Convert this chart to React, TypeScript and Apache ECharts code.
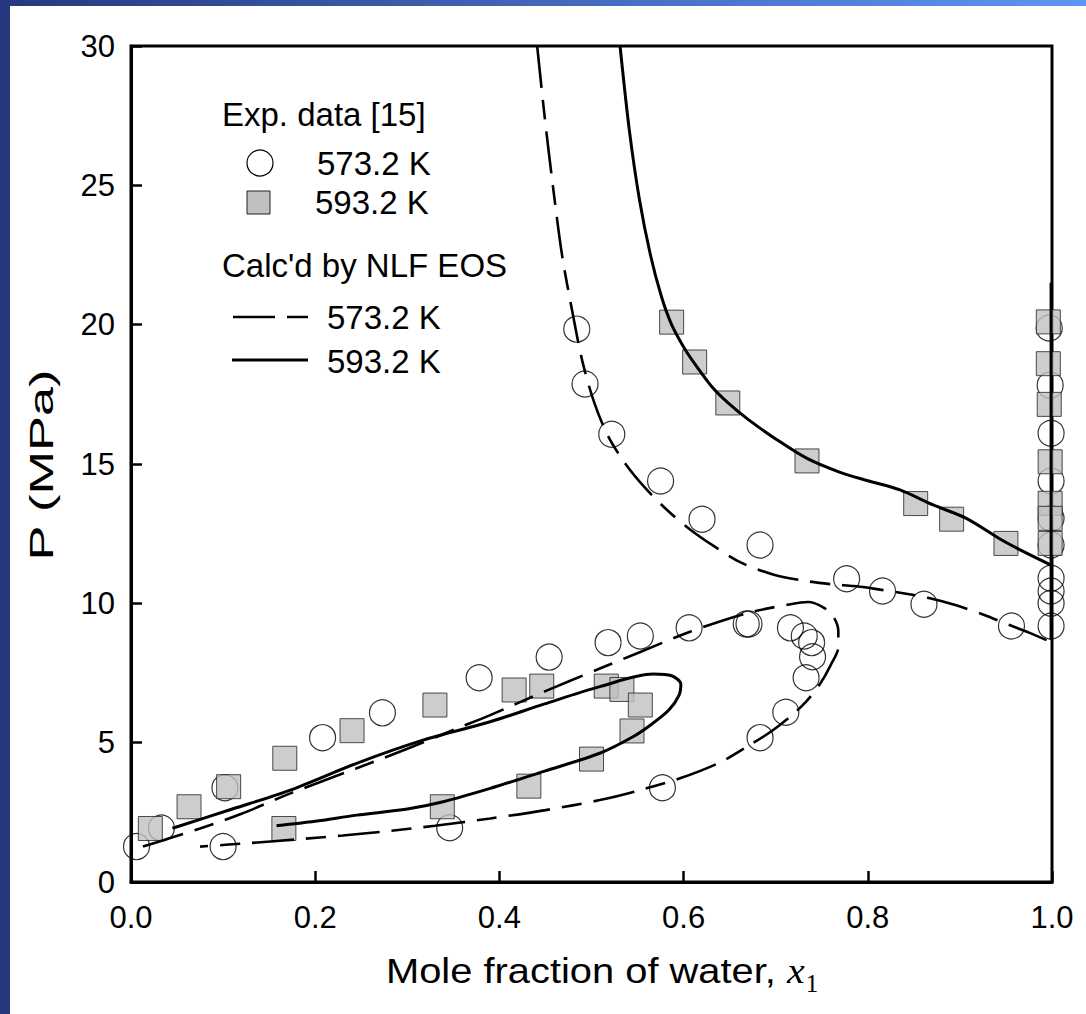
import React, { useEffect, useRef } from "react";
import * as echarts from "echarts";

// ---------- data ----------
const xTicks = [0, 0.2, 0.4, 0.6, 0.8, 1.0];
const yTicks = [0, 5, 10, 15, 20, 25, 30];

// Exp. data [15], 573.2 K (open circles)
const exp573: number[][] = [
  [0.006, 1.27], [0.033, 1.94], [0.100, 1.27], [0.102, 3.38], [0.208, 5.18],
  [0.273, 6.07], [0.378, 7.33], [0.346, 1.95], [0.454, 8.07], [0.518, 8.59],
  [0.553, 8.83], [0.606, 9.12], [0.668, 9.26], [0.671, 9.26], [0.716, 9.12],
  [0.731, 8.83], [0.739, 8.59], [0.740, 8.08], [0.733, 7.33], [0.711, 6.09],
  [0.683, 5.18], [0.577, 3.38],
  [0.484, 19.84], [0.493, 17.87], [0.522, 16.07], [0.575, 14.39], [0.620, 13.02],
  [0.683, 12.09], [0.777, 10.88], [0.816, 10.44], [0.861, 9.97], [0.956, 9.19],
  [0.997, 19.88], [0.998, 17.83], [0.999, 16.1], [0.999, 14.39], [0.999, 13.05],
  [0.999, 12.09], [0.999, 10.9], [0.999, 10.44], [0.999, 10.0], [0.999, 9.19],
];

// Exp. data [15], 593.2 K (grey squares)
const exp593: number[][] = [
  [0.021, 1.92], [0.063, 2.70], [0.106, 3.42], [0.167, 4.44], [0.240, 5.43],
  [0.330, 6.35], [0.416, 6.89], [0.446, 7.03], [0.516, 7.03], [0.533, 6.91],
  [0.553, 6.35], [0.544, 5.42], [0.500, 4.41], [0.432, 3.44], [0.338, 2.70],
  [0.166, 1.92],
  [0.587, 20.09], [0.612, 18.66], [0.648, 17.19], [0.734, 15.11], [0.852, 13.58],
  [0.891, 13.02], [0.950, 12.15],
  [0.996, 20.1], [0.996, 18.6], [0.997, 17.14], [0.998, 15.08], [0.998, 13.59],
  [0.998, 13.05], [0.998, 12.15],
];

// Calc'd by NLF EOS, 573.2 K (dashed)
const calc573Upper: number[][] = [
  [0.441, 30], [0.449, 27.5], [0.458, 25], [0.468, 22.5], [0.479, 20.5],
  [0.490, 18.7], [0.503, 17.2], [0.518, 16.0], [0.537, 15.0], [0.558, 14.15],
  [0.582, 13.35], [0.607, 12.65], [0.633, 12.05], [0.663, 11.45], [0.698, 11.03],
  [0.733, 10.8], [0.762, 10.68], [0.785, 10.62], [0.808, 10.52], [0.835, 10.38],
  [0.865, 10.2], [0.895, 9.94], [0.925, 9.6], [0.954, 9.22], [0.975, 8.95],
  [0.994, 8.68],
];
const calc573Loop: number[][] = [
  [0.013, 1.27], [0.040, 1.55], [0.075, 1.92], [0.120, 2.45], [0.173, 3.18],
  [0.245, 4.08], [0.300, 4.78], [0.354, 5.51], [0.390, 5.99], [0.450, 6.85],
  [0.509, 7.66], [0.549, 8.2], [0.607, 8.98], [0.668, 9.64], [0.716, 9.97],
  [0.735, 10.05], [0.752, 9.85], [0.763, 9.5], [0.768, 9.0], [0.768, 8.44],
  [0.760, 7.8], [0.748, 7.1], [0.733, 6.47], [0.717, 5.97], [0.695, 5.4],
  [0.672, 4.92], [0.640, 4.3], [0.596, 3.72], [0.553, 3.3], [0.509, 2.94],
  [0.450, 2.58], [0.390, 2.28], [0.330, 2.02], [0.281, 1.83], [0.230, 1.67],
  [0.180, 1.53], [0.130, 1.4], [0.075, 1.27],
];

// Calc'd by NLF EOS, 593.2 K (solid)
const calc593Upper: number[][] = [
  [0.531, 30], [0.541, 27], [0.552, 24.5], [0.564, 22.5], [0.576, 21.0],
  [0.587, 20.0], [0.600, 19.2], [0.612, 18.6], [0.630, 17.8], [0.648, 17.2],
  [0.670, 16.6], [0.700, 15.9], [0.734, 15.2], [0.770, 14.7], [0.800, 14.4],
  [0.835, 14.07], [0.871, 13.53], [0.907, 13.05], [0.944, 12.3], [0.973, 11.79],
  [0.999, 11.37],
];
const calc593Vertical: number[][] = [[0.999, 8.68], [0.999, 21.5]];
const calc593Loop: number[][] = [
  [0.045, 1.93], [0.110, 2.62], [0.173, 3.3], [0.245, 4.26], [0.317, 5.09],
  [0.390, 5.75], [0.449, 6.39], [0.509, 7.01], [0.567, 7.46], [0.587, 7.4],
  [0.597, 7.1], [0.595, 6.7], [0.584, 6.17], [0.566, 5.68], [0.545, 5.21],
  [0.509, 4.62], [0.449, 3.98], [0.390, 3.36], [0.339, 2.88], [0.300, 2.62],
  [0.245, 2.4], [0.200, 2.18], [0.158, 2.02],
];

// texts
const legendExpTitle = "Exp. data [15]";
const legendCalcTitle = "Calc'd by NLF EOS";
const legendTemps = ["573.2 K", "593.2 K"];
const xTitle = "Mole fraction of water, ";
const xTitleVar = "x";
const xTitleSub = "1";
const yTitle = "P (MPa)";

const SANS = '"Liberation Sans", Arial, Helvetica, sans-serif';
const SERIF = '"Liberation Serif", "Times New Roman", serif';
const DASH = [42, 12, 20, 12];

function measure(text: string, font: string): number {
  const c = document.createElement("canvas").getContext("2d");
  if (!c) return text.length * 16;
  c.font = font;
  return c.measureText(text).width;
}

export default function App() {
  const ref = useRef<HTMLDivElement>(null);

  useEffect(() => {
    if (!ref.current) return;
    const chart = echarts.init(ref.current, null, { renderer: "svg" });

    // x-axis title: "Mole fraction of water," spans about 386 -> 778 px
    const titleFont = 35;
    const titleX = 386;
    const titleY = 971;
    const wCore = measure(xTitle.trimEnd(), `${titleFont}px ${SANS}`);
    const titleScale = 390 / wCore;
    const wMain = measure(xTitle, `${titleFont}px ${SANS}`) * titleScale;
    const wVar = measure(xTitleVar, `italic ${titleFont}px ${SERIF}`) * titleScale;

    // y-axis title stretched along its length to about 192 px
    const yFont = 34;
    const wY = measure(yTitle, `${yFont}px ${SANS}`);
    const yScale = 192 / wY;

    const lineSeries = (data: number[][], dashed: boolean) => ({
      type: "line",
      data,
      symbol: "none",
      smooth: 0.3,
      silent: true,
      clip: true,
      z: 5,
      lineStyle: {
        color: "#000",
        width: dashed ? 2.6 : 3,
        type: dashed ? DASH : "solid",
        cap: "butt",
      },
    });

    const legendText = (x: number, y: number, text: string) => ({
      type: "text",
      x,
      y,
      style: { text, fontFamily: SANS, fontSize: 33, fill: "#000", verticalAlign: "middle" },
      silent: true,
    });

    const option: any = {
      animation: false,
      backgroundColor: "#fff",
      grid: {
        left: 131,
        right: 34,
        top: 46,
        bottom: 132,
        show: true,
        borderColor: "#000",
        borderWidth: 3,
        backgroundColor: "transparent",
      },
      xAxis: {
        type: "value",
        min: 0,
        max: 1,
        interval: 0.2,
        axisLine: { show: true, onZero: false, lineStyle: { color: "#000", width: 3 } },
        axisTick: { show: true, inside: true, length: 11, lineStyle: { color: "#000", width: 2.5 } },
        axisLabel: {
          color: "#000",
          fontFamily: SANS,
          fontSize: 31,
          margin: 20,
          formatter: (v: number) => (xTicks.some((t) => Math.abs(t - v) < 1e-9) ? v.toFixed(1) : ""),
        },
        splitLine: { show: false },
      },
      yAxis: {
        type: "value",
        min: 0,
        max: 30,
        interval: 5,
        axisLine: { show: true, onZero: false, lineStyle: { color: "#000", width: 3 } },
        axisTick: { show: true, inside: true, length: 11, lineStyle: { color: "#000", width: 2.5 } },
        axisLabel: {
          color: "#000",
          fontFamily: SANS,
          fontSize: 31,
          margin: 16,
          formatter: (v: number) => (yTicks.includes(v) ? String(v) : ""),
        },
        splitLine: { show: false },
      },
      series: [
        {
          type: "scatter",
          name: "exp573",
          data: exp573,
          symbol: "circle",
          symbolSize: 26,
          silent: true,
          z: 2,
          itemStyle: { color: "rgba(0,0,0,0)", borderColor: "#000", borderWidth: 1.2 },
        },
        {
          type: "scatter",
          name: "exp593",
          data: exp593,
          symbol: "rect",
          symbolSize: 24,
          silent: true,
          z: 3,
          itemStyle: { color: "#c0c0c0", borderColor: "#222", borderWidth: 1 },
        },
        lineSeries(calc573Upper, true),
        lineSeries(calc573Loop, true),
        lineSeries(calc593Upper, false),
        lineSeries(calc593Loop, false),
        lineSeries(calc593Vertical, false),
      ],
      graphic: [
        // blue frame
        {
          type: "rect",
          shape: { x: 0, y: 0, width: 1086, height: 6 },
          style: {
            fill: new echarts.graphic.LinearGradient(0, 0, 1, 0, [
              { offset: 0, color: "#26387f" },
              { offset: 1, color: "#5f95f4" },
            ]),
          },
          silent: true,
          z: 100,
        },
        {
          type: "rect",
          shape: { x: 0, y: 0, width: 10, height: 1014 },
          style: { fill: "#26387f" },
          silent: true,
          z: 101,
        },
        // legend
        legendText(222, 114, legendExpTitle),
        {
          type: "circle",
          shape: { cx: 260, cy: 163, r: 13 },
          style: { fill: "none", stroke: "#000", lineWidth: 1.2 },
          silent: true,
        },
        legendText(317, 163, legendTemps[0]),
        {
          type: "rect",
          shape: { x: 247, y: 191, width: 23, height: 23 },
          style: { fill: "#c0c0c0", stroke: "#222", lineWidth: 1 },
          silent: true,
        },
        legendText(315, 202, legendTemps[1]),
        legendText(222, 265, legendCalcTitle),
        {
          type: "line",
          shape: { x1: 233, y1: 317, x2: 308, y2: 317 },
          style: { stroke: "#000", lineWidth: 2.6, lineDash: [42, 12, 21, 100] },
          silent: true,
        },
        legendText(327, 317, legendTemps[0]),
        {
          type: "line",
          shape: { x1: 232, y1: 360, x2: 308, y2: 360 },
          style: { stroke: "#000", lineWidth: 3 },
          silent: true,
        },
        legendText(327, 361, legendTemps[1]),
        // axis titles
        {
          type: "text",
          x: titleX,
          y: titleY,
          scaleX: titleScale,
          style: { text: xTitle, fontFamily: SANS, fontSize: titleFont, fill: "#000", verticalAlign: "middle" },
          silent: true,
        },
        {
          type: "text",
          x: titleX + wMain,
          y: titleY,
          scaleX: titleScale,
          style: {
            text: xTitleVar,
            fontFamily: SERIF,
            fontStyle: "italic",
            fontSize: titleFont,
            fill: "#000",
            verticalAlign: "middle",
          },
          silent: true,
        },
        {
          type: "text",
          x: titleX + wMain + wVar + 1,
          y: titleY + 12,
          style: { text: xTitleSub, fontFamily: SERIF, fontSize: 25, fill: "#000", verticalAlign: "middle" },
          silent: true,
        },
        {
          type: "text",
          x: 41,
          y: 465,
          rotation: Math.PI / 2,
          scaleX: yScale,
          style: {
            text: yTitle,
            fontFamily: SANS,
            fontSize: yFont,
            fill: "#000",
            align: "center",
            verticalAlign: "middle",
          },
          silent: true,
        },
      ],
    };

    chart.setOption(option);
    return () => chart.dispose();
  }, []);

  return (
    <div
      ref={ref}
      style={{ position: "fixed", left: 0, top: 0, width: 1086, height: 1014, background: "#fff" }}
    />
  );
}
